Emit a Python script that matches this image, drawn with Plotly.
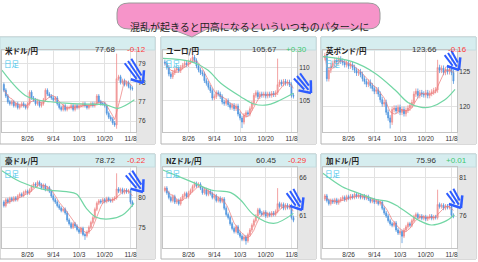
import math
import pandas as pd
import plotly.graph_objects as go

W, H = 478, 262

# ---------------- data ----------------
date_labels = ['8/26', '9/14', '10/3', '10/20', '11/8']
date_pos = [12, 25, 38, 51, 64]

pair_names = ['米ドル/円', 'ユーロ/円', '英ポンド/円', '豪ドル/円', 'NZドル/円', '加ドル/円']
last_prices = ['77.68', '105.67', '123.66', '78.72', '60.45', '75.96']
day_changes = ['-0.12', '+0.30', '-0.16', '-0.22', '-0.29', '+0.01']
bubble_text = '混乱が起きると円高になるといういつものパターンに'

usd_close = [77.6, 77.3, 77.0, 76.9, 77.0, 76.8, 76.9, 76.7, 76.8, 76.9,
             76.8, 76.7, 76.9, 77.5, 77.2, 77.1, 76.9, 77.0, 76.8, 76.9,
             77.1, 77.6, 77.4, 77.3, 77.2, 77.1, 77.2, 76.9, 76.7, 76.6,
             76.8, 76.6, 76.7, 76.7, 76.8, 76.6, 76.8, 76.7, 76.8, 76.8,
             76.9, 76.8, 76.7, 76.8, 76.9, 76.8, 76.9, 77.3, 77.0, 76.9,
             76.9, 76.8, 76.4, 76.2, 76.1, 75.9, 75.8, 78.2, 78.3, 78.0,
             78.1, 77.9, 78.0, 77.8, 77.7, 77.68]
eur_close = [110.6, 110.0, 109.0, 108.6, 109.2, 109.6, 109.8, 109.5, 110.0, 110.3,
             110.6, 110.4, 110.8, 111.0, 111.5, 111.0, 110.2, 109.6, 109.2, 109.0,
             108.0, 107.6, 107.0, 106.5, 105.4, 105.6, 106.2, 106.0, 105.6, 104.8,
             104.6, 105.0, 104.4, 104.0, 104.3, 103.8, 104.2, 103.0, 102.4, 101.8,
             102.8, 103.2, 103.0, 103.8, 104.6, 105.8, 106.2, 105.6, 106.0, 105.8,
             106.0, 105.7, 106.0, 105.8, 106.1, 105.9, 106.2, 107.4, 107.8, 107.5,
             107.9, 107.6, 107.8, 107.4, 105.8, 105.67]
gbp_close = [127.3, 124.0, 125.2, 125.8, 126.2, 126.6, 126.4, 126.8, 126.5, 126.3,
             126.0, 126.2, 125.8, 126.0, 125.6, 125.2, 124.8, 125.0, 124.6, 124.0,
             123.6, 123.2, 123.5, 123.0, 122.6, 122.2, 122.4, 121.8, 121.0, 120.4,
             120.6, 119.2, 118.4, 117.8, 119.6, 119.8, 119.4, 119.9, 119.2, 119.6,
             119.0, 119.5, 119.8, 120.2, 120.6, 121.8, 122.2, 121.6, 122.0, 121.8,
             121.7, 122.0, 121.6, 121.9, 122.1, 122.3, 122.4, 125.6, 125.2, 125.5,
             124.9, 125.3, 125.0, 125.4, 124.9, 123.66]
aud_close = [78.6, 79.6, 79.2, 79.8, 79.5, 79.9, 79.6, 80.2, 80.5, 80.3,
             80.8, 81.0, 80.7, 81.2, 81.8, 82.2, 82.0, 82.5, 82.1, 81.6,
             82.0, 81.3, 81.6, 81.0, 80.2, 79.6, 79.2, 78.6, 78.2, 77.8,
             78.0, 77.4, 76.2, 75.6, 75.0, 75.6, 75.2, 74.6, 74.2, 74.8,
             73.8, 73.6, 74.2, 75.0, 75.8, 76.6, 78.0, 79.0, 79.4, 79.2,
             79.6, 79.3, 79.8, 79.5, 79.4, 79.7, 79.9, 81.4, 81.0, 81.3,
             80.8, 81.2, 80.9, 81.1, 79.2, 78.72]
nzd_close = [64.6, 64.0, 63.4, 63.0, 63.5, 62.8, 63.0, 62.6, 63.2, 63.6,
             63.9, 63.5, 64.0, 64.3, 64.8, 65.2, 64.9, 65.1, 64.6, 64.0,
             64.4, 63.8, 64.2, 63.9, 63.4, 63.6, 63.0, 63.3, 62.9, 63.2,
             62.0, 61.2, 60.8, 60.0, 59.4, 59.0, 59.6, 58.8, 58.4, 58.0,
             58.3, 57.8, 58.6, 59.2, 59.8, 60.4, 61.0, 61.8, 61.4, 61.2,
             61.5, 61.0, 61.3, 61.1, 61.4, 61.2, 61.6, 62.6, 62.2, 62.5,
             62.0, 62.4, 62.1, 62.3, 60.8, 60.45]
cad_close = [78.6, 78.0, 77.6, 78.0, 77.8, 78.1, 77.7, 78.0, 78.2, 78.4,
             78.1, 78.5, 78.3, 78.6, 78.4, 78.8, 78.5, 78.7, 78.4, 78.6,
             78.3, 78.5, 78.2, 77.9, 78.1, 77.8, 77.9, 77.6, 77.8, 77.0,
             76.4, 76.0, 75.4, 75.0, 74.8, 75.1, 74.2, 73.8, 74.0, 73.4,
             74.2, 74.6, 75.0, 74.8, 75.4, 75.9, 76.2, 75.8, 76.0, 75.7,
             75.9, 75.6, 75.8, 76.0, 75.7, 75.9, 75.8, 77.5, 77.2, 77.4,
             77.0, 77.3, 77.1, 77.2, 76.1, 75.96]

open_first = [77.9, 110.8, 127.0, 79.2, 64.3, 78.2]
spike_idx = 57
spike_high = [79.5, 111.3, 126.7, 84.0, 64.6, 79.4]
deep_low_idx = [57, 39, 33, 41, 41, 39]
deep_low = [75.6, 100.9, 116.9, 72.9, 57.3, 72.5]
wick = [0.1, 0.35, 0.4, 0.3, 0.25, 0.25]

# 25-day moving average read at knots (bar index, value)
usd_ma_x = [-1, 11.8, 23.5, 38.5, 51.8, 57.7, 66]
usd_ma_y = [78.65, 77.27, 77.0, 76.89, 76.83, 76.66, 77.1]
eur_ma_x = [-1, 13.3, 21.7, 28.3, 38.3, 45, 51.7, 56.7, 65]
eur_ma_y = [111.35, 110.85, 109.6, 107.6, 105.6, 104.5, 104.36, 104.86, 106.1]
gbp_ma_x = [-1, 13.8, 25.5, 35.5, 42.2, 48.8, 53.8, 60.5, 65.8]
gbp_ma_y = [127.14, 126.43, 124.76, 122.38, 120.57, 119.9, 120.0, 120.95, 122.48]
aud_ma_x = [-1, 8.3, 20, 31.7, 36.7, 41.7, 46.7, 53.3, 60, 65.8]
aud_ma_y = [84.44, 82.6, 81.33, 80.94, 80.56, 78.17, 76.67, 76.39, 77.06, 79.0]
nzd_ma_x = [-1, 13.3, 23.3, 33.3, 38.3, 45, 55, 65]
nzd_ma_y = [66.95, 65.44, 64.36, 64.02, 63.07, 61.13, 60.05, 61.34]
cad_ma_x = [-1, 8.8, 17.2, 25.5, 32.2, 37.2, 47.2, 53.8, 60.5, 65.5]
cad_ma_y = [81.52, 79.79, 78.93, 78.16, 77.85, 77.21, 75.48, 74.84, 75.27, 76.13]

y_ranges = [[75.43, 79.69], [100.31, 112.59], [116.39, 128.1],
            [71.55, 85.05], [56.87, 67.33], [71.87, 82.33]]
y_ticks = [[76, 77, 78, 79], [105, 110], [120, 125], [75, 80], [61, 66], [76, 81]]

closes = [usd_close, eur_close, gbp_close, aud_close, nzd_close, cad_close]
ma_xs = [usd_ma_x, eur_ma_x, gbp_ma_x, aud_ma_x, nzd_ma_x, cad_ma_x]
ma_ys = [usd_ma_y, eur_ma_y, gbp_ma_y, aud_ma_y, nzd_ma_y, cad_ma_y]

# ---------------- geometry (px) ----------------
PX0 = [0, 161, 321]
ROWS = [(37, 49, 50, 132, 144), (154, 166, 167, 248, 259)]
ARROWS = [((128, 61), (143, 83)), ((297, 76), (311, 93)), ((448, 53), (459, 70)),
          ((129, 173), (143, 192)), ((290, 191), (302, 210)), ((450, 191), (461, 208))]


def X(px):
    return px / W


def Y(py):
    return 1 - py / H


fig = go.Figure()
shapes, annotations = [], []
layout = {}

for i in range(6):
    r, c = divmod(i, 3)
    x0 = PX0[c]
    ht, hb, pt, pb, bot = ROWS[r]
    n = '' if i == 0 else str(i + 1)
    cl = closes[i]
    idx = list(range(len(cl)))
    op = [open_first[i]] + cl[:-1]
    hi = [max(o, cc) + wick[i] for o, cc in zip(op, cl)]
    lo = [min(o, cc) - wick[i] for o, cc in zip(op, cl)]
    hi[spike_idx] = spike_high[i]
    lo[deep_low_idx[i]] = deep_low[i]

    # panel decorations
    shapes.append(dict(type='rect', xref='paper', yref='paper', layer='below',
                       x0=X(x0), x1=X(x0 + 155), y0=Y(bot), y1=Y(ht),
                       fillcolor='white', line=dict(color='#b4b4b4', width=1)))
    shapes.append(dict(type='rect', xref='paper', yref='paper', layer='below',
                       x0=X(x0 + 136), x1=X(x0 + 155), y0=Y(bot), y1=Y(pt),
                       fillcolor='#e6e6e6', line=dict(width=0)))
    shapes.append(dict(type='rect', xref='paper', yref='paper', layer='below',
                       x0=X(x0), x1=X(x0 + 155), y0=Y(hb + 1), y1=Y(ht),
                       fillcolor='#d6edef', line=dict(color='#c4dcdf', width=1)))

    annotations += [
        dict(x=X(x0 + 3), y=Y((ht + hb) / 2 + 0.5), xref='paper', yref='paper',
             text='<b>' + pair_names[i] + '</b>', showarrow=False, xanchor='left',
             font=dict(family='Noto Sans CJK JP', size=7.5, color='#222')),
        dict(x=X(x0 + 118), y=Y((ht + hb) / 2 + 0.5), xref='paper', yref='paper',
             text=last_prices[i], showarrow=False, xanchor='right',
             font=dict(family='Liberation Sans', size=8, color='#333')),
        dict(x=X(x0 + 148), y=Y((ht + hb) / 2 + 0.5), xref='paper', yref='paper',
             text=day_changes[i], showarrow=False, xanchor='right',
             font=dict(family='Liberation Sans', size=8,
                       color='#ff3b3b' if day_changes[i].startswith('-') else '#3cc870')),
        dict(x=X(x0 + 2), y=Y(pt + 6), xref='paper', yref='paper',
             text='日足', showarrow=False, xanchor='left',
             font=dict(family='Noto Sans CJK JP', size=7.5, color='#48c6ec')),
    ]

    fig.add_trace(go.Candlestick(
        x=idx, open=op, high=hi, low=lo, close=cl,
        xaxis='x' + n, yaxis='y' + n, whiskerwidth=0,
        increasing=dict(line=dict(color='#ef8a8a', width=0.8), fillcolor='#f6b0b0'),
        decreasing=dict(line=dict(color='#5397de', width=0.8), fillcolor='#5397de'),
        showlegend=False, hoverinfo='skip'))
    fig.add_trace(go.Scatter(
        x=idx, y=pd.Series(cl).rolling(5, min_periods=1).mean(),
        xaxis='x' + n, yaxis='y' + n, mode='lines',
        line=dict(color='rgba(235,120,120,0.7)', width=1),
        showlegend=False, hoverinfo='skip'))
    fig.add_trace(go.Scatter(
        x=ma_xs[i], y=ma_ys[i], xaxis='x' + n, yaxis='y' + n, mode='lines',
        line=dict(color='#72d6a4', width=1.2, shape='spline'),
        showlegend=False, hoverinfo='skip'))

    layout['xaxis' + n] = dict(
        domain=[X(x0 + 1.5), X(x0 + 136)], range=[-1.2, 66.8], anchor='y' + n,
        tickvals=date_pos, ticktext=date_labels, showgrid=True,
        gridcolor='#e2e2e2', gridwidth=1, zeroline=False, showline=True,
        mirror=True, linecolor='#c4c4c4', ticks='',
        tickfont=dict(size=6.5, color='#333', family='Liberation Sans'),
        rangeslider=dict(visible=False), fixedrange=True)
    layout['yaxis' + n] = dict(
        domain=[Y(pb), Y(pt)], range=y_ranges[i], anchor='x' + n, side='right',
        tickvals=y_ticks[i], showgrid=True, gridcolor='#e2e2e2', gridwidth=1,
        zeroline=False, showline=True, mirror=True, linecolor='#c4c4c4',
        ticks='', tickfont=dict(size=6.5, color='#333', family='Liberation Sans'),
        fixedrange=True)

    # blue arrow
    (tx, ty), (px_, py_) = ARROWS[i]
    dx, dy = px_ - tx, py_ - ty
    L = math.hypot(dx, dy)
    ux, uy = dx / L, dy / L
    nx, ny = -uy, ux
    col = '#2d5cff'
    for k in (-1, 0, 1):
        sx, sy = tx + nx * k * 4, ty + ny * k * 4
        ex, ey = px_ - ux * (4 + 3 * abs(k)) + nx * k * 3, py_ - uy * (4 + 3 * abs(k)) + ny * k * 3
        shapes.append(dict(type='line', xref='paper', yref='paper', x0=X(sx), y0=Y(sy),
                           x1=X(ex), y1=Y(ey), line=dict(color=col, width=2)))
    for k in (-1, 1):
        ax_, ay_ = px_ - ux * 10 + nx * k * 8, py_ - uy * 10 + ny * k * 8
        shapes.append(dict(type='line', xref='paper', yref='paper', x0=X(ax_), y0=Y(ay_),
                           x1=X(px_), y1=Y(py_), line=dict(color=col, width=2.5)))

# speech bubble
pts = ('M {a},{b} L {c},{b} Q {d},{b} {d},{e} L {d},{f} Q {d},{g} {c},{g} '
       'L {h},{g} L {i},{j} L {k},{g} L {a},{g} Q {l},{g} {l},{f} L {l},{e} Q {l},{b} {a},{b} Z')
path = pts.format(a=X(129), b=Y(3), c=X(368), d=X(380), e=Y(13), f=Y(19), g=Y(29),
                  h=X(207), i=X(192), j=Y(37), k=X(171), l=X(117))
shapes.append(dict(type='path', xref='paper', yref='paper', path=path,
                   fillcolor='#f694c9', line=dict(color='#9a9a9a', width=1), layer='above'))
annotations.append(dict(x=X(249), y=Y(16.5), xref='paper', yref='paper', text=bubble_text,
                        showarrow=False, font=dict(family='Noto Sans CJK JP', size=10, color='#222')))

fig.update_layout(width=W, height=H, margin=dict(l=0, r=0, t=0, b=0),
                  paper_bgcolor='white', plot_bgcolor='rgba(0,0,0,0)',
                  shapes=shapes, annotations=annotations, showlegend=False, **layout)
fig.write_html('out.html')
